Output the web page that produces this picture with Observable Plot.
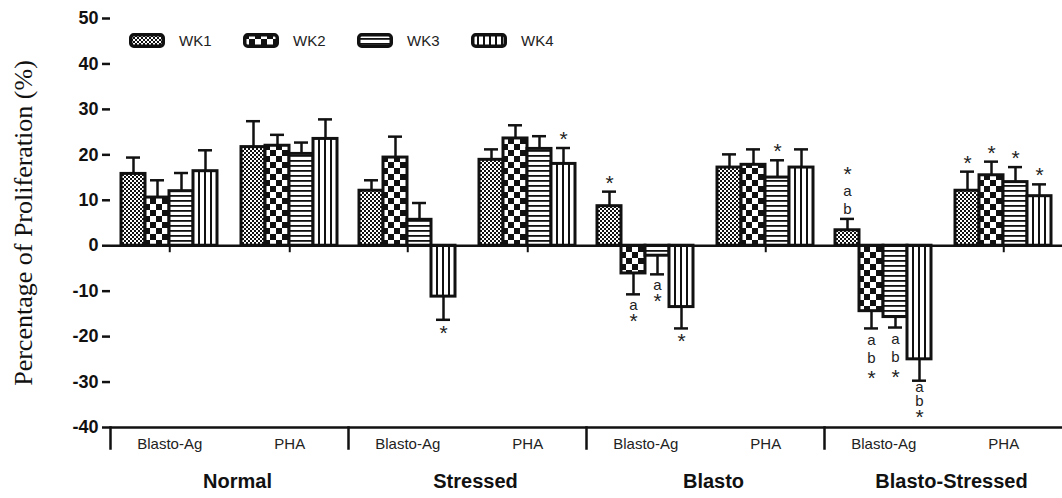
<!DOCTYPE html>
<html>
<head>
<meta charset="utf-8">
<script src="https://cdn.jsdelivr.net/npm/d3@7"></script>
<script src="https://cdn.jsdelivr.net/npm/@observablehq/plot@0.6"></script>
<style>
  html, body { margin: 0; padding: 0; background: #fff; }
  #wrap { position: relative; width: 1062px; height: 498px; overflow: hidden; }
  #legend { position: absolute; left: 129px; top: 32px; display: flex; font-family: "Liberation Sans", Arial, sans-serif; font-size: 15px; color: #222; }
  .item { display: flex; align-items: center; width: 114px; }
  .item svg { margin-right: 14px; }
</style>
</head>
<body>
<svg width="0" height="0" style="position:absolute">
  <defs>
    <pattern id="pat-WK1" patternUnits="userSpaceOnUse" width="4" height="4">
      <rect width="4" height="4" fill="#fff"/>
      <rect width="2" height="2" fill="#111"/>
      <rect x="2" y="2" width="2" height="2" fill="#111"/>
    </pattern>
    <pattern id="pat-WK2" patternUnits="userSpaceOnUse" width="12" height="12">
      <rect width="12" height="12" fill="#fff"/>
      <rect width="6" height="6" fill="#111"/>
      <rect x="6" y="6" width="6" height="6" fill="#111"/>
    </pattern>
    <pattern id="pat-WK3" patternUnits="userSpaceOnUse" width="4" height="5">
      <rect width="4" height="5" fill="#fff"/>
      <rect width="4" height="1.8" fill="#111"/>
    </pattern>
    <pattern id="pat-WK4" patternUnits="userSpaceOnUse" width="6" height="4">
      <rect width="6" height="4" fill="#fff"/>
      <rect width="2" height="4" fill="#111"/>
    </pattern>
  </defs>
</svg>
<div id="wrap">
  <div id="chart"></div>
  <div id="legend"></div>
</div>
<script>
// ---- data (rows = groups, columns = weeks) ----
const groups = ["Normal", "Stressed", "Blasto", "Blasto-Stressed"];
const stimuli = ["Blasto-Ag", "PHA"];
const weeks = ["WK1", "WK2", "WK3", "WK4"];
const yTicks = [-40, -30, -20, -10, 0, 10, 20, 30, 40, 50];
const yTitle = "Percentage of Proliferation (%)";

const blastoAgMean = [
  [15.8, 10.6, 12.0, 16.4],
  [12.1, 19.4, 5.7, -11.2],
  [8.7, -6.1, -2.2, -13.5],
  [3.4, -14.4, -15.7, -25.0]
];
const blastoAgSD = [
  [3.6, 3.8, 4.0, 4.6],
  [2.3, 4.6, 3.7, 5.1],
  [3.2, 4.6, 4.1, 4.7],
  [2.5, 3.8, 2.3, 4.7]
];
const phaMean = [
  [21.7, 22.0, 20.2, 23.5],
  [18.9, 23.6, 21.3, 18.0],
  [17.2, 17.8, 15.0, 17.2],
  [12.1, 15.5, 14.0, 10.9]
];
const phaSD = [
  [5.7, 2.4, 2.5, 4.3],
  [2.3, 2.9, 2.8, 3.5],
  [2.9, 3.4, 3.8, 4.0],
  [4.2, 3.0, 3.3, 2.6]
];
const blastoAgNote = [
  ["", "", "", ""],
  ["", "", "", "*"],
  ["*", "a\n*", "a\n*", "*"],
  ["*\na\nb", "a\nb\n*", "a\nb\n*", "a\nb\n*"]
];
const phaNote = [
  ["", "", "", ""],
  ["", "", "", "*"],
  ["", "", "*", ""],
  ["*", "*", "*", "*"]
];

// ---- table ----
const rows = [];
groups.forEach((g, gi) => {
  stimuli.forEach((s, si) => {
    const M = si === 0 ? blastoAgMean : phaMean;
    const S = si === 0 ? blastoAgSD : phaSD;
    const N = si === 0 ? blastoAgNote : phaNote;
    weeks.forEach((w, wi) => {
      const mean = M[gi][wi], sd = S[gi][wi];
      rows.push({group: g, stim: s, week: w, key: s + " " + w, mean, sd,
                 end: mean >= 0 ? mean + sd : mean - sd, note: N[gi][wi]});
    });
  });
});
const subRows = groups.flatMap(g => stimuli.map(s => ({group: g, stim: s})));
const xDomain = [...weeks.map(w => "Blasto-Ag " + w), "gap", ...weeks.map(w => "PHA " + w)];

const sans = "'Liberation Sans', Arial, sans-serif";
const ink = "#111";
const halfStep = 12.25;

// split each note into a stars-only text and a letters-only text (same line grid)
const starsOf = d => d.note.split("\n").map(l => (l === "*" ? l : "")).join("\n");
const lettersOf = d => d.note.split("\n").map(l => (l === "*" ? "" : l)).join("\n");
const LETTER = 15, STAR = 21;

function noteMarks(data, linePx, positive, dyLetters, dyStars) {
  const common = {fx: "group", x: "key", y: "end", fill: "#222", lineAnchor: positive ? "bottom" : "top"};
  return [
    Plot.text(data, {...common, text: lettersOf, fontSize: LETTER, lineHeight: linePx / LETTER, dy: dyLetters}),
    Plot.text(data, {...common, text: starsOf, fontSize: STAR, lineHeight: linePx / STAR, dy: dyStars})
  ];
}
const withNote = rows.filter(d => d.note);
const isBS = d => d.group === "Blasto-Stressed";
const deep = d => d.end < -28;

const chart = Plot.plot({
  width: 1062,
  height: 498,
  marginLeft: 110,
  marginRight: 0,
  marginTop: 18,
  marginBottom: 71,
  fx: {domain: groups, padding: 0, axis: null},
  x: {domain: xDomain, paddingInner: 0, paddingOuter: 0.36, axis: null},
  y: {domain: [-40, 50], axis: null},
  style: {fontFamily: sans, background: "#fff", overflow: "visible", color: ink},
  marks: [
    Plot.ruleY([-40], {stroke: ink, strokeWidth: 2.5}),
    Plot.frame({anchor: "left", insetTop: 409, insetBottom: -21, stroke: ink, strokeWidth: 2.5}),
    Plot.ruleX(subRows, {fx: "group", x: d => d.stim + " WK2", dx: halfStep, y1: 0, y2: 0, insetBottom: -7, stroke: ink, strokeWidth: 2}),
    Plot.ruleX(rows, {fx: "group", x: "key", y1: "mean", y2: "end", stroke: ink, strokeWidth: 2.5}),
    Plot.tickY(rows, {fx: "group", x: "key", y: "end", insetLeft: 5, insetRight: 5, stroke: ink, strokeWidth: 2.5}),
    ...weeks.map(w => Plot.barY(rows.filter(d => d.week === w), {
      fx: "group", x: "key", y: "mean", fill: `url(#pat-${w})`, stroke: ink, strokeWidth: 3
    })),
    Plot.ruleY([0], {stroke: ink, strokeWidth: 2.5}),
    ...noteMarks(withNote.filter(d => d.mean >= 0 && !isBS(d)), 14, true, -5, -2),
    ...noteMarks(withNote.filter(d => d.mean >= 0 && isBS(d)), 18, true, -5, -2),
    ...noteMarks(withNote.filter(d => d.mean < 0 && !isBS(d)), 14, false, 6, 10),
    ...noteMarks(withNote.filter(d => d.mean < 0 && isBS(d) && !deep(d)), 18, false, 4, 8),
    ...noteMarks(withNote.filter(d => d.mean < 0 && isBS(d) && deep(d)), 14, false, 1, 5),
    Plot.text(subRows, {fx: "group", x: d => d.stim + " WK2", dx: halfStep, text: "stim", frameAnchor: "bottom", dy: 21, fontSize: 15, fill: "#222"}),
    Plot.text(groups, {fx: d => d, text: d => d, frameAnchor: "bottom", dy: 60, dx: 8, fontSize: 20, fontWeight: "bold", fill: ink}),
    Plot.axisY({ticks: yTicks, tickFormat: d => String(d), tickSize: 8, tickPadding: 4, fontSize: 18, fontWeight: "bold", strokeWidth: 2.5, stroke: ink, fill: ink, line: true, label: null}),
    Plot.text([yTitle], {fx: () => groups[0], text: d => d, frameAnchor: "left", textAnchor: "middle", rotate: -90, dx: -87, fontSize: 26, fontFamily: "'Liberation Serif', 'Times New Roman', serif", fill: ink})
  ]
});
document.getElementById("chart").appendChild(chart);

// ---- legend ----
const legend = document.getElementById("legend");
weeks.forEach(w => {
  const item = document.createElement("div");
  item.className = "item";
  item.innerHTML = `<svg width="36" height="15"><rect x="1.75" y="1.75" width="32.5" height="11.5" rx="3" fill="url(#pat-${w})" stroke="${ink}" stroke-width="3.5"/></svg><span>${w}</span>`;
  legend.appendChild(item);
});
</script>
</body>
</html>
